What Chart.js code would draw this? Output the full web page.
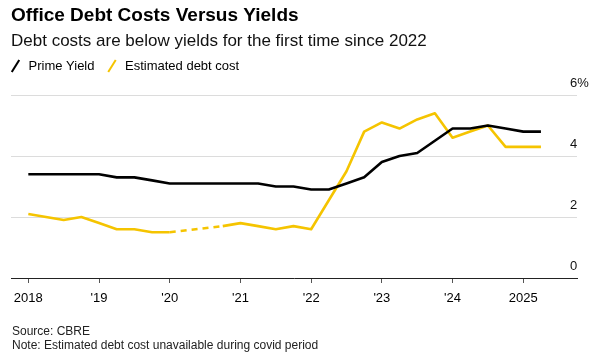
<!DOCTYPE html>
<html>
<head>
<meta charset="utf-8">
<script src="https://cdn.jsdelivr.net/npm/chart.js@4.4.1/dist/chart.umd.min.js"></script>
<style>
  html, body { margin: 0; padding: 0; background: #fff; }
  #wrap { position: relative; width: 598px; height: 356px; }
  #c { position: absolute; left: 0; top: 0; }
  .foot { position: absolute; left: 12px; font: 12px "Liberation Sans", Arial, sans-serif; color: #222; line-height: 15px; white-space: nowrap; }
</style>
</head>
<body>
<div id="wrap">
  <canvas id="c" width="598" height="356"></canvas>
  <div class="foot" style="top:324px">Source: CBRE</div>
  <div class="foot" style="top:337.6px">Note: Estimated debt cost unavailable during covid period</div>
</div>
<script>
// ---- data ----
const quarters = [2018, 2018.25, 2018.5, 2018.75, 2019, 2019.25, 2019.5, 2019.75,
                  2020, 2020.25, 2020.5, 2020.75, 2021, 2021.25, 2021.5, 2021.75,
                  2022, 2022.25, 2022.5, 2022.75, 2023, 2023.25, 2023.5, 2023.75,
                  2024, 2024.25, 2024.5, 2024.75, 2025, 2025.25];
const primeYield = [3.4, 3.4, 3.4, 3.4, 3.4, 3.3, 3.3, 3.2,
                    3.1, 3.1, 3.1, 3.1, 3.1, 3.1, 3.0, 3.0,
                    2.9, 2.9, 3.1, 3.3, 3.8, 4.0, 4.1, 4.5,
                    4.9, 4.9, 5.0, 4.9, 4.8, 4.8];
const debtCost = [2.1, 2.0, 1.9, 2.0, 1.8, 1.6, 1.6, 1.5,
                  1.5, null, null, 1.7, 1.8, 1.7, 1.6, 1.7,
                  1.6, 2.55, 3.5, 4.8, 5.1, 4.9, 5.2, 5.4,
                  4.6, 4.8, 5.0, 4.3, 4.3, 4.3];
const yearTicks = [2018, 2019, 2020, 2021, 2022, 2023, 2024, 2025];
const yearLabels = ["2018", "'19", "'20", "'21", "'22", "'23", "'24", "2025"];
const yTicks = [0, 2, 4, 6];
const yLabels = ["0", "2", "4", "6%"];
const seriesNames = ["Prime Yield", "Estimated debt cost"];
const seriesColors = ["#000000", "#f5c400"];

const FONT = '"Liberation Sans", Arial, sans-serif';
Chart.defaults.font.family = FONT;
Chart.defaults.color = '#000';

const toPts = (vals) => quarters.map((q, i) => ({ x: q, y: vals[i] }));

const tweak = {
  id: 'tweak',
  beforeInit(chart) {
    const lg = chart.legend;
    if (lg) {
      const fit = lg.fit;
      lg.fit = function () { fit.call(this); this.height += 12.5; };
    }
  },
  afterLayout(chart) {
    if (chart.legend) chart.legend.left = -2;
    if (chart.scales.y) chart.scales.y._computeLabelArea = () => null;
  }
};

new Chart(document.getElementById('c'), {
  type: 'line',
  data: {
    datasets: [
      {
        label: seriesNames[0],
        data: toPts(primeYield),
        borderColor: seriesColors[0],
        borderWidth: 2.6,
        pointRadius: 0,
        tension: 0,
        borderJoinStyle: 'round'
      },
      {
        label: seriesNames[1],
        data: toPts(debtCost),
        borderColor: seriesColors[1],
        borderWidth: 2.6,
        pointRadius: 0,
        tension: 0,
        spanGaps: true,
        borderJoinStyle: 'round',
        segment: {
          borderDash: (ctx) => (ctx.p0.skip || ctx.p1.skip) ? [6, 5] : undefined
        }
      }
    ]
  },
  options: {
    responsive: false,
    animation: false,
    layout: { padding: { left: 11, right: 0, top: 0, bottom: 41.4 } },
    plugins: {
      title: {
        display: true,
        text: 'Office Debt Costs Versus Yields',
        align: 'start',
        color: '#000',
        font: { size: 19, weight: 'bold', family: FONT },
        padding: { top: 4.5, bottom: 3 }
      },
      subtitle: {
        display: true,
        text: 'Debt costs are below yields for the first time since 2022',
        align: 'start',
        color: '#111',
        font: { size: 17, family: FONT },
        padding: { top: 0.5, bottom: -2.7 }
      },
      legend: {
        display: true,
        position: 'top',
        align: 'start',
        labels: {
          usePointStyle: true,
          boxWidth: 13,
          boxHeight: 10,
          padding: 11,
          color: '#000',
          font: { size: 13, family: FONT },
          generateLabels: (chart) => chart.data.datasets.map((ds, i) => ({
            text: ds.label,
            strokeStyle: ds.borderColor,
            fillStyle: ds.borderColor,
            fontColor: '#000',
            lineWidth: 2,
            pointStyle: 'line',
            rotation: -58,
            hidden: false,
            datasetIndex: i
          }))
        }
      },
      tooltip: { enabled: false }
    },
    scales: {
      x: {
        type: 'linear',
        min: 2017.755,
        max: 2025.76,
        afterBuildTicks: (axis) => { axis.ticks = yearTicks.map(v => ({ value: v })); },
        ticks: {
          autoSkip: false,
          maxRotation: 0,
          padding: 8,
          color: '#000',
          font: { size: 13 },
          callback: (v) => { const i = yearTicks.indexOf(v); return i >= 0 ? yearLabels[i] : ''; }
        },
        grid: { drawOnChartArea: false, drawTicks: true, tickLength: 5, color: '#555', lineWidth: 1 },
        border: { display: true, color: '#222', width: 1 }
      },
      y: {
        position: 'right',
        min: 0,
        max: 6,
        afterBuildTicks: (axis) => { axis.ticks = yTicks.map(v => ({ value: v })); },
        afterFit: (axis) => { axis.width = 21; },
        ticks: {
          padding: -7,
          labelOffset: -12,
          color: '#111',
          font: { size: 13 },
          callback: (v) => { const i = yTicks.indexOf(v); return i >= 0 ? yLabels[i] : ''; }
        },
        grid: { color: '#dcdcdc', lineWidth: 1, drawTicks: false },
        border: { display: false }
      }
    }
  },
  plugins: [tweak]
});
</script>
</body>
</html>
